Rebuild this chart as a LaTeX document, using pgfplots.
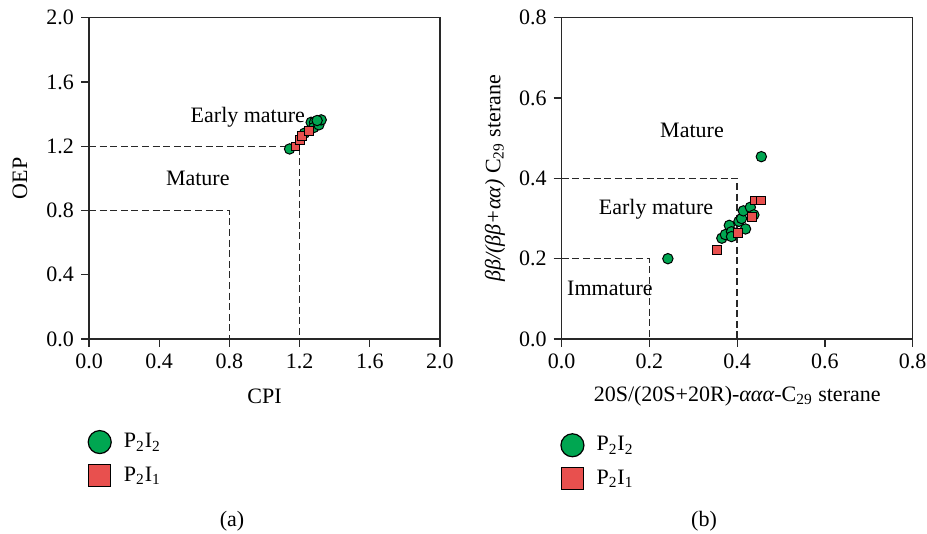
\documentclass[border=0pt]{standalone}
\usepackage{fontspec}
\setmainfont{Liberation Serif}
\usepackage{pgfplots}
\pgfplotsset{compat=1.18}

\definecolor{cgreen}{RGB}{0,166,81}
\definecolor{cred}{RGB}{232,80,78}
\definecolor{axisgray}{RGB}{40,40,40}

\newcommand{\chartfont}{\fontsize{11}{13}\selectfont}

% shared look of both maturity diagrams
\pgfplotsset{
  maturity/.style={
    scale only axis,
    width=175.5pt, height=160.65pt,
    axis line style={line width=0.6pt, draw=axisgray},
    tick style={line width=0.6pt, draw=axisgray},
    tick align=outside, major tick length=4pt,
    xtick pos=left, ytick pos=left,
    /pgf/number format/fixed, /pgf/number format/fixed zerofill,
    /pgf/number format/precision=1,
    /pgf/number format/assume math mode=true,
    font=\chartfont,
    tick label style={font=\chartfont},
    xlabel style={at={(axis description cs:0.5,-0.177)}, anchor=center},
    clip=false,
    legend cell align=left,
    legend style={draw=none, fill=none, inner sep=0pt, row sep=4pt,
                  column sep=4pt, anchor=north west, font=\chartfont},
  },
  bound/.style={dashed, dash pattern=on 3.5pt off 1.8pt, line width=0.7pt,
                color=axisgray, no markers},
  grp2/.style={only marks, mark=*, mark size=2.6pt,
               mark options={fill=cgreen, draw=black, line width=0.5pt},
               legend image code/.code={%
                 \draw[fill=cgreen, draw=black, line width=0.6pt]
                   (0.3cm,0pt) circle (5.75pt);}},
  grp1/.style={only marks, mark=square*, mark size=2.2pt,
               mark options={fill=cred, draw=black, line width=0.5pt},
               legend image code/.code={%
                 \draw[fill=cred, draw=black, line width=0.6pt]
                   (0.3cm-5.5pt,-5.5pt) rectangle (0.3cm+5.5pt,5.5pt);}},
}

\begin{document}
\begin{tikzpicture}
\useasboundingbox (0,0) rectangle (463.5pt,267pt);

% (a) CPI versus OEP
\begin{axis}[maturity,
  at={(44.5pt,97.5pt)}, anchor=south west,
  xmin=0, xmax=2, ymin=0, ymax=2,
  xtick={0,0.4,...,2.0}, ytick={0,0.4,...,2.0},
  xlabel={CPI}, ylabel={OEP},
  ylabel style={at={(axis description cs:-0.197,0.5)}, anchor=center},
  legend style={at={(axis description cs:-0.005,-0.28)}},
]
\addplot[bound, forget plot] coordinates {(0,0.8) (0.8,0.8) (0.8,0)};
\addplot[bound, forget plot] coordinates {(0,1.2) (1.2,1.2) (1.2,0)};
\addplot[grp2] coordinates {
  (1.143,1.183) (1.228,1.281) (1.266,1.349) (1.285,1.349)
  (1.280,1.316) (1.310,1.333) (1.323,1.364) (1.300,1.360)
};
\addlegendentry{P\textsubscript{2}I\textsubscript{2}}
\addplot[grp1] coordinates {
  (1.177,1.198) (1.204,1.239) (1.215,1.266) (1.253,1.295)
};
\addlegendentry{P\textsubscript{2}I\textsubscript{1}}
\node at (axis cs:0.905,1.378) {Early mature};
\node at (axis cs:0.62,1.0) {Mature};
\end{axis}

% (b) sterane isomerisation ratios
\begin{axis}[maturity,
  at={(280.85pt,97.5pt)}, anchor=south west,
  xmin=0, xmax=0.8, ymin=0, ymax=0.8,
  xtick={0,0.2,...,0.8}, ytick={0,0.2,...,0.8},
  xlabel={20S/(20S+20R)-\textit{ααα}-C\textsubscript{29} sterane},
  ylabel={\textit{ββ/(ββ+αα)} C\textsubscript{29} sterane},
  ylabel style={at={(axis description cs:-0.19,0.5)}, anchor=center},
  legend style={at={(axis description cs:-0.005,-0.29)}},
]
\addplot[bound, forget plot] coordinates {(0,0.2) (0.2,0.2) (0.2,0)};
\addplot[bound, forget plot] coordinates {(0,0.4) (0.4,0.4) (0.4,0)};
\addplot[grp2] coordinates {
  (0.455,0.454) (0.242,0.200) (0.365,0.251) (0.373,0.260)
  (0.382,0.283) (0.387,0.267) (0.387,0.255) (0.404,0.293)
  (0.410,0.300) (0.414,0.319) (0.430,0.328) (0.438,0.309)
  (0.419,0.274)
};
\addlegendentry{P\textsubscript{2}I\textsubscript{2}}
\addplot[grp1] coordinates {
  (0.354,0.221) (0.402,0.264) (0.434,0.303) (0.440,0.345) (0.454,0.345)
};
\addlegendentry{P\textsubscript{2}I\textsubscript{1}}
\node at (axis cs:0.297,0.52) {Mature};
\node at (axis cs:0.215,0.324) {Early mature};
\node at (axis cs:0.110,0.127) {Immature};
\end{axis}

\node[font=\chartfont] at (116pt,6.5pt) {(a)};
\node[font=\chartfont] at (352pt,6.5pt) {(b)};
\end{tikzpicture}
\end{document}
